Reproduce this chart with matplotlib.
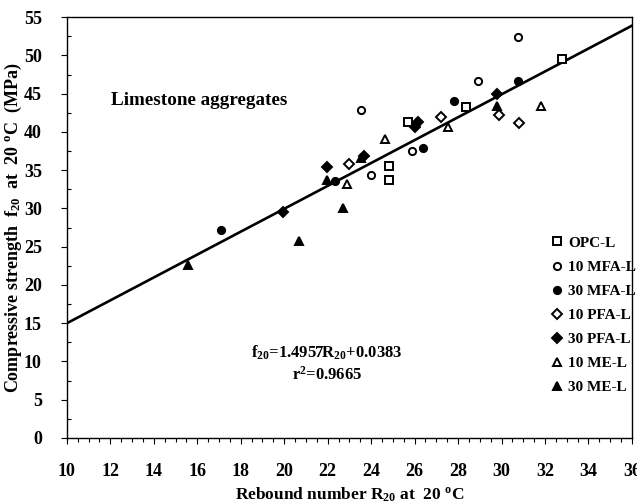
import matplotlib
matplotlib.use("Agg")
import matplotlib.pyplot as plt
import numpy as np
from matplotlib.ticker import MultipleLocator

plt.rcParams['font.family'] = ['Liberation Serif', 'DejaVu Serif']
plt.rcParams['font.weight'] = 'bold'
plt.rcParams['mathtext.fontset'] = 'custom'
plt.rcParams['mathtext.rm'] = 'Liberation Serif:bold'
plt.rcParams['mathtext.it'] = 'Liberation Serif:bold'
plt.rcParams['mathtext.bf'] = 'Liberation Serif:bold'
plt.rcParams['mathtext.default'] = 'rm'

# Data (rebound number R20, compressive strength f20)
opc_l_x = [25.69, 24.82, 24.82, 28.36, 32.78]
opc_l_y = [41.28, 35.53, 33.70, 43.24, 49.51]

mfa10_x = [30.75, 28.91, 23.53, 25.88, 23.99]
mfa10_y = [52.38, 46.64, 42.85, 37.49, 34.36]

mfa30_x = [17.09, 22.33, 26.38, 27.81, 30.75]
mfa30_y = [27.17, 33.57, 37.88, 44.02, 46.64]

pfa10_x = [22.98, 27.21, 29.88, 30.80]
pfa10_y = [35.79, 41.93, 42.19, 41.15]

pfa30_x = [19.94, 21.96, 23.67, 26.01, 26.15, 29.79]
pfa30_y = [29.52, 35.40, 36.84, 40.63, 41.28, 44.94]

me10_x = [22.89, 24.63, 27.53, 31.81]
me10_y = [33.18, 39.06, 40.63, 43.37]

me30_x = [15.57, 20.68, 21.96, 22.70, 29.79, 23.53]
me30_y = [22.60, 25.73, 33.70, 30.05, 43.37, 36.58]

slope = 1.4957
intercept = 0.0383
r2 = 0.9665

series = [
    ("OPC-L", opc_l_x, opc_l_y, 's', 'white'),
    ("10 MFA-L", mfa10_x, mfa10_y, 'o', 'white'),
    ("30 MFA-L", mfa30_x, mfa30_y, 'o', 'black'),
    ("10 PFA-L", pfa10_x, pfa10_y, 'D', 'white'),
    ("30 PFA-L", pfa30_x, pfa30_y, 'D', 'black'),
    ("10 ME-L", me10_x, me10_y, '^', 'white'),
    ("30 ME-L", me30_x, me30_y, '^', 'black'),
]

fig = plt.figure(figsize=(6.37, 5.04), dpi=100)
ax = fig.add_axes([0.105, 0.131, 0.887, 0.835])

xl = np.array([10, 36])
ax.plot(xl, slope * xl + intercept, color='black', lw=1.9, zorder=2)

for name, xs, ys, m, fc in series:
    ms = 5.2 if m in ('s', 'o') else (4.6 if m == 'D' else 6.0)
    ax.plot(xs, ys, linestyle='none', marker=m, markersize=ms,
            markerfacecolor=fc, markeredgecolor='black', markeredgewidth=1.4,
            label=name, zorder=3)

ax.set_xlim(10, 36)
ax.set_ylim(0, 55)
ax.xaxis.set_major_locator(MultipleLocator(2))
ax.xaxis.set_minor_locator(MultipleLocator(0.5))
ax.yaxis.set_major_locator(MultipleLocator(5))
ax.yaxis.set_minor_locator(MultipleLocator(2.5))
ax.tick_params(axis='both', which='major', direction='out', length=4, width=0.8,
               labelsize=13)
ax.tick_params(axis='x', which='major', pad=14)
ax.tick_params(axis='y', which='major', pad=14)
ax.tick_params(axis='x', which='minor', direction='out', length=3, width=0.8)
ax.tick_params(axis='y', which='minor', direction='in', length=3, width=0.8)
for lab in ax.get_xticklabels() + ax.get_yticklabels():
    lab.set_fontweight('bold')
for s in ax.spines.values():
    s.set_linewidth(1.0)

ax.set_xlabel(r"Rebound number R$_{20}$ at  20 $^{o}$C", fontsize=12.5,
              fontweight='bold', labelpad=4)
ax.set_ylabel(r"Compressive strength  f$_{20}$  at  20 $^{o}$C  (MPa)", fontsize=13,
              fontweight='bold', labelpad=0)

ax.text(0.078, 0.803, "Limestone aggregates", transform=ax.transAxes,
        fontsize=13.8, fontweight='bold', ha='left', va='center')

ax.text(0.46, 0.202, r"f$_{20}$=%.4fR$_{20}$+%.4f" % (slope, intercept),
        transform=ax.transAxes, fontsize=12, fontweight='bold', ha='center', va='center')
ax.text(0.46, 0.150, r"r$^{2}$=%.4f" % r2,
        transform=ax.transAxes, fontsize=12, fontweight='bold', ha='center', va='center')

leg = ax.legend(loc='upper left', bbox_to_anchor=(0.835, 0.505), frameon=False,
                fontsize=11, labelspacing=0.68, handletextpad=0.25,
                handlelength=1.0, borderpad=0.2)
for t in leg.get_texts():
    t.set_fontweight('bold')

fig.savefig("out.png", dpi=100)
